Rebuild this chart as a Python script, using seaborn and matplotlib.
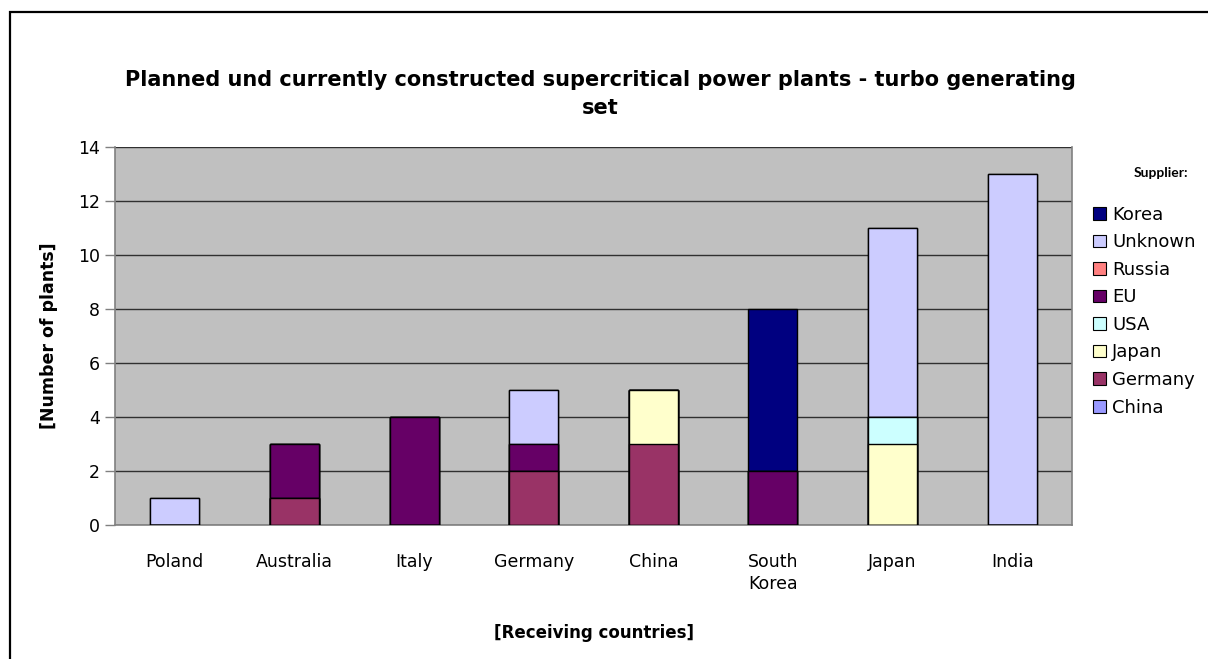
import matplotlib
matplotlib.use("Agg")
import matplotlib.pyplot as plt
import matplotlib.patches as mpatches
import numpy as np
import pandas as pd
import seaborn as sns

countries = ["Poland", "Australia", "Italy", "Germany", "China", "South\nKorea", "Japan", "India"]

# series in stacking order, bottom to top
china = [0, 0, 0, 0, 0, 0, 0, 0]
germany = [0, 1, 0, 2, 3, 0, 0, 0]
japan = [0, 0, 0, 0, 2, 0, 3, 0]
usa = [0, 0, 0, 0, 0, 0, 1, 0]
eu = [0, 2, 4, 1, 0, 2, 0, 0]
russia = [0, 0, 0, 0, 0, 0, 0, 0]
unknown = [1, 0, 0, 2, 0, 0, 7, 13]
korea = [0, 0, 0, 0, 0, 6, 0, 0]

series_names = ["China", "Germany", "Japan", "USA", "EU", "Russia", "Unknown", "Korea"]
series_values = [china, germany, japan, usa, eu, russia, unknown, korea]
series_colors = ["#9999FF", "#993366", "#FFFFCC", "#CCFFFF", "#660066", "#FF8080", "#CCCCFF", "#000080"]

sns.set_style("white")
plt.rcParams["font.family"] = ["DejaVu Sans"]
plt.rcParams["text.color"] = "black"
plt.rcParams["axes.labelcolor"] = "black"
plt.rcParams["xtick.labelcolor"] = "black"
plt.rcParams["ytick.labelcolor"] = "black"

fig = plt.figure(figsize=(12.08, 6.59), dpi=100)
ax = fig.add_axes([115 / 1208, 1 - 525 / 659, 957 / 1208, 378 / 659])
ax.set_facecolor("#C0C0C0")

# cumulative totals, drawn from the top series down so each layer covers the one above
cum = np.cumsum(np.array(series_values), axis=0)
for i in range(len(series_names) - 1, -1, -1):
    df = pd.DataFrame({"country": countries, "value": cum[i]})
    sns.barplot(data=df, x="country", y="value", color=series_colors[i],
                width=0.41, edgecolor="black", linewidth=1.0, saturation=1,
                ax=ax, zorder=3)

ax.set_xlim(-0.5, len(countries) - 0.5)
ax.set_ylim(0, 14)
ax.set_yticks(range(0, 15, 2))
ax.grid(axis="y", color="#303030", linewidth=1.0, zorder=0)
ax.set_axisbelow(True)
for s in ["left", "bottom", "right", "top"]:
    ax.spines[s].set_color("#808080")
    ax.spines[s].set_linewidth(1.2)
ax.spines["top"].set_visible(False)

ax.set_xticks(np.arange(len(countries)))
ax.set_xticklabels(countries, fontsize=12.5, linespacing=1.3, va="top")
ax.set_xticks(np.arange(-0.5, len(countries), 1), minor=True)
ax.tick_params(axis="x", which="major", length=0, pad=20)
ax.tick_params(axis="x", which="minor", length=7, color="#808080", width=1)
ax.tick_params(axis="y", length=7, color="#808080", width=1, labelsize=12.5, pad=4, left=True)

ax.set_xlabel("[Receiving countries]", fontsize=12, fontweight="bold", labelpad=22)
ax.set_ylabel("[Number of plants]", fontsize=12.5, fontweight="bold", labelpad=14)

fig.text(600 / 1208, 1 - 94 / 659,
         "Planned und currently constructed supercritical power plants - turbo generating\nset",
         ha="center", va="center", fontsize=15, fontweight="bold", linespacing=1.45)

# legend, listed top series first
handles = [mpatches.Patch(facecolor=series_colors[i], edgecolor="black", linewidth=0.8, label=series_names[i])
           for i in range(len(series_names) - 1, -1, -1)]
leg = fig.legend(handles=handles, title="Supplier:", loc="upper left",
                 bbox_to_anchor=(1086 / 1208, 1 - 160 / 659), frameon=False,
                 fontsize=13, handlelength=0.7, handleheight=0.7, handletextpad=0.35,
                 labelspacing=0.53, borderaxespad=0)
leg.get_title().set_fontfamily("Lato")
leg.get_title().set_fontweight("bold")
leg.get_title().set_fontsize(10)
leg._legend_box.align = "left"
leg._legend_box.sep = 19
leg.get_title().set_position((40, 0))

# chart frame
frame = mpatches.Rectangle((10 / 1208, -0.1), 1.2, 1 - 12 / 659 + 0.1, transform=fig.transFigure,
                           fill=False, edgecolor="black", linewidth=1.6, clip_on=False)
fig.patches.append(frame)

fig.savefig("out.png", dpi=100)
